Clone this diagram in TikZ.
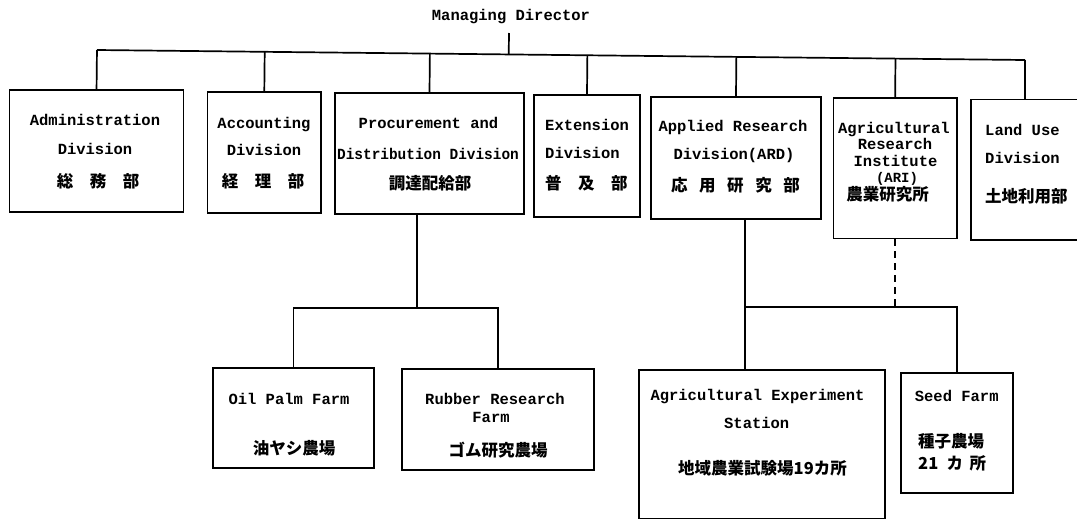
\documentclass[tikz,border=0pt]{standalone}
\usepackage{fontspec}
\usepackage{graphicx}
\setmainfont{Liberation Mono}
\newfontfamily\cjkfont{Noto Sans CJK JP}
\usetikzlibrary{calc}
\begin{document}
\begin{tikzpicture}[x=1pt,y=-1pt,
  box/.style={draw, line width=1.7pt, inner sep=0pt},
  link/.style={line width=1.7pt},
  dlink/.style={line width=1.7pt, dash pattern=on 7pt off 5pt},
  lat/.style={font=\fontsize{15.5}{18}\selectfont\bfseries, inner sep=0pt, anchor=base},
  jp/.style={font=\cjkfont\fontsize{16.5}{18}\selectfont\bfseries, inner sep=0pt, anchor=base},
  latl/.style={lat, anchor=base west},
  jpl/.style={jp, anchor=base west}]
\fill[white] (0,0) rectangle (1077,520);
\useasboundingbox (0,0) rectangle (1077,520);

% boxes
\node[box, minimum width=173.9pt, minimum height=121.7pt] (admin) at (96.55,150.85) {};
\node[box, minimum width=113.4pt, minimum height=121pt] (acct) at (264.3,152.8) {};
\node[box, minimum width=189pt, minimum height=121pt] (proc) at (429.5,153.8) {};
\node[box, minimum width=106pt, minimum height=122.3pt] (ext) at (587,156.15) {};
\node[box, minimum width=170pt, minimum height=122.3pt] (ard) at (736,157.85) {};
\node[box, minimum width=123.1pt, minimum height=140.8pt] (ari) at (895.15,168.1) {};
\node[box, minimum width=119.3pt, minimum height=140.5pt] (land) at (1030.35,169.75) {};
\node[box, minimum width=161pt, minimum height=100.6pt] (oil) at (293.5,418) {};
\node[box, minimum width=192pt, minimum height=101pt] (rub) at (498,419.5) {};
\node[box, minimum width=246pt, minimum height=148.5pt] (aes) at (762,444.25) {};
\node[box, minimum width=112pt, minimum height=119.7pt] (seed) at (957,432.85) {};

% top
\node[lat] (md) at (511,20) {Managing Director};
\coordinate (busL) at (97,50);
\coordinate (busR) at (1025,60);
\coordinate (mdc) at (509,33);
\draw[link] (busL) -- (busR);
\draw[link] (mdc) -- ($(busL)!(mdc)!(busR)$);
\foreach \n in {admin,acct,proc,ext,ard,ari}
  \draw[link] (\n.north) -- ($(busL)!(\n.north)!(busR)$);
\draw[link] (land.north -| busR) -- (busR);

% procurement branch
\coordinate (pbus) at (417,308);
\draw[link] (proc.south -| pbus) -- (pbus);
\draw[link] (oil.north) -- (oil.north |- pbus) -- (rub.north |- pbus) -- (rub.north);

% ARD branch
\coordinate (abus) at (745,307);
\draw[link] (ard.south -| abus) -- (abus);
\draw[link] (aes.north -| abus) -- (abus) -- (seed.north |- abus) -- (seed.north);
\draw[dlink] (ari.south) -- (ari.south |- abus);

% texts
\node[lat] (t1a) at (95,125.7) {Administration};
\node[lat] (t1b) at (95,154) {Division};
\node[jp]  (t1c) at (98,187.7) {総　務　部};

\node[lat] (t2a) at (264,128.3) {Accounting};
\node[lat] (t2b) at (264,155.7) {Division};
\node[jp]  (t2c) at (263,187.7) {経　理　部};

\node[lat] (t3a) at (428.5,128.3) {Procurement and};
\node[lat] (t3b) at (428,159) {\scalebox{0.93}[1]{Distribution Division}};
\node[jp]  (t3c) at (430,189.3) {調達配給部};

\node[latl] (t4a) at (545,130) {Extension};
\node[latl] (t4b) at (545,158.3) {Division};
\node[jpl]  (t4c) at (545,189.3) {普　及　部};

\node[lat] (t5a) at (733,131) {Applied Research};
\node[lat] (t5b) at (734,159) {Division(ARD)};
\node[jp]  (t5c) at (735.5,191) {応\hspace{0.7em}用\hspace{0.7em}研\hspace{0.7em}究\hspace{0.7em}部};

\node[lat] (t6a) at (894,133) {Agricultural};
\node[lat] (t6b) at (895,149.5) {Research};
\node[lat] (t6c) at (895.5,166) {Institute};
\node[lat, font=\fontsize{14}{16}\selectfont\bfseries] (t6d) at (897,182.5) {(ARI)};
\node[jp]  (t6e) at (887.5,200) {農業研究所};

\node[latl] (t7a) at (985,135) {Land Use};
\node[latl] (t7b) at (985,163.3) {Division};
\node[jpl]  (t7c) at (985,202.7) {土地利用部};

\node[lat] (t8a) at (289,404) {Oil Palm Farm};
\node[jp]  (t8b) at (294,454) {油ヤシ農場};

\node[lat] (t9a) at (495,404) {Rubber Research};
\node[lat] (t9b) at (491,422) {Farm};
\node[jp]  (t9c) at (498,456) {ゴム研究農場};

\node[lat] (t10a) at (757.5,400) {Agricultural Experiment};
\node[lat] (t10b) at (756.7,428) {Station};
\node[jp]  (t10c) at (762.5,474) {地域農業試験場19カ所};

\node[lat]  (t11a) at (956.7,401.7) {Seed Farm};
\node[jpl]  (t11b) at (918,447.7) {種子農場};
\node[jpl]  (t11c) at (918,469) {21\hspace{0.5em}カ\hspace{0.4em}所};
\end{tikzpicture}
\end{document}
